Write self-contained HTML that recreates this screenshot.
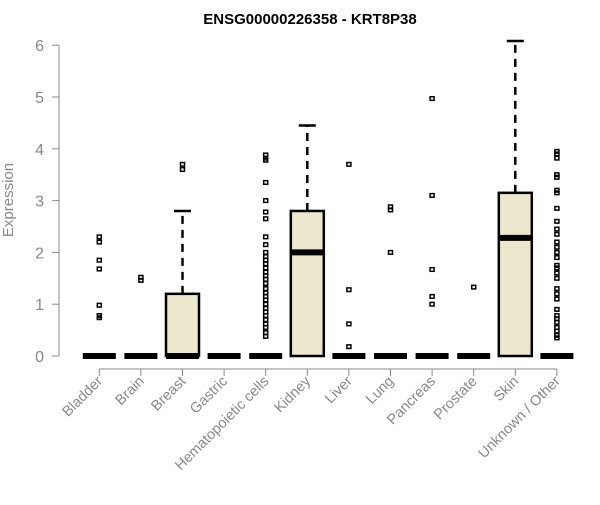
<!DOCTYPE html>
<html><head><meta charset="utf-8"><style>
body{margin:0;background:#fff;font-family:"Liberation Sans",Arial,sans-serif}
</style></head><body>
<svg id="c" width="600" height="500" xmlns="http://www.w3.org/2000/svg">
<text x="310" y="24" text-anchor="middle" font-weight="bold" font-size="15">ENSG00000226358 - KRT8P38</text>
<text transform="translate(13,200) rotate(-90)" text-anchor="middle" font-size="15" fill="#888">Expression</text>
<g id="axes"></g><g id="marks"></g>
</svg>
<script>
const categories=["Bladder","Brain","Breast","Gastric","Hematopoietic cells","Kidney","Liver","Lung","Pancreas","Prostate","Skin","Unknown / Other"];
const medians=[0,0,0,0,0,2.0,0,0,0,0,2.28,0];
const q1s=[0,0,0,0,0,0,0,0,0,0,0,0];
const q3s=[0,0,1.2,0,0,2.8,0,0,0,0,3.15,0];
const whiskLo=[0,0,0,0,0,0,0,0,0,0,0,0];
const whiskHi=[0,0,2.8,0,0,4.45,0,0,0,0,6.08,0];
const outliers=[[2.3,2.2,1.85,1.68,0.98,0.78,0.74],[1.52,1.46],[3.7,3.6],[],
[3.88,3.82,3.78,3.35,3.0,2.78,2.65,2.3,2.15,2.0,1.92,1.85,1.78,1.7,1.62,1.55,1.48,1.4,1.3,1.22,1.15,1.08,1.0,0.92,0.85,0.78,0.7,0.62,0.55,0.45,0.38],
[],[3.7,1.28,0.62,0.18],[2.88,2.82,2.0],[4.97,3.1,1.67,1.15,1.0],[1.33],[],
[3.95,3.9,3.82,3.5,3.45,3.2,3.15,2.85,2.6,2.45,2.35,2.2,2.1,2.0,1.9,1.75,1.7,1.6,1.5,1.3,1.2,1.1,0.9,0.78,0.72,0.65,0.55,0.48,0.4,0.35]];
const yTicks=[0,1,2,3,4,5,6];
const NS="http://www.w3.org/2000/svg";
const x=i=>99.3+i*41.6, y=v=>356-v*51.8;
function mk(tag,at,parent){const e=document.createElementNS(NS,tag);for(const k in at)e.setAttribute(k,at[k]);document.getElementById(parent).appendChild(e);return e;}
let e=mk('line',{x1:59,x2:59,y1:y(0),y2:y(6),stroke:'#888'},'axes');

yTicks.forEach(t=>{let l=mk('line',{x1:52,x2:59,y1:y(t),y2:y(t),stroke:'#888'},'axes');

let tx=mk('text',{x:44,y:y(t)+6,'text-anchor':'end','font-size':16,fill:'#888'},'axes');tx.textContent=t;
});
e=mk('line',{x1:x(0),x2:x(11),y1:369,y2:369,stroke:'#888'},'axes');

categories.forEach((c,i)=>{let l=mk('line',{x1:x(i),x2:x(i),y1:369,y2:376,stroke:'#888'},'axes');

let tx=mk('text',{x:x(i)+4,y:382,'text-anchor':'end','font-size':14.5,fill:'#888',transform:`rotate(-45 ${x(i)+4} 382)`},'axes');tx.textContent=c;

const cx=x(i),hw=16.5;
if(whiskHi[i]>q3s[i]){let w=mk('line',{x1:cx,x2:cx,y1:y(q3s[i]),y2:y(whiskHi[i]),stroke:'#000','stroke-width':2.5,'stroke-dasharray':'8,6'},'marks');

let cap=mk('line',{x1:cx-8.5,x2:cx+8.5,y1:y(whiskHi[i]),y2:y(whiskHi[i]),stroke:'#000','stroke-width':2.5},'marks');
}
if(q3s[i]>q1s[i]){let b=mk('rect',{x:cx-hw,y:y(q3s[i]),width:2*hw,height:y(q1s[i])-y(q3s[i]),fill:'#ede7ce',stroke:'#000','stroke-width':2.5},'marks');
}
let m=mk('line',{x1:cx-hw,x2:cx+hw,y1:y(medians[i]),y2:y(medians[i]),stroke:'#000','stroke-width':6},'marks');

outliers[i].forEach(v=>{let o=mk('rect',{x:cx-2,y:y(v)-1.8,width:4,height:3.6,fill:'none',stroke:'#000','stroke-width':1.5},'marks');
});
});
</script>
</body></html>
